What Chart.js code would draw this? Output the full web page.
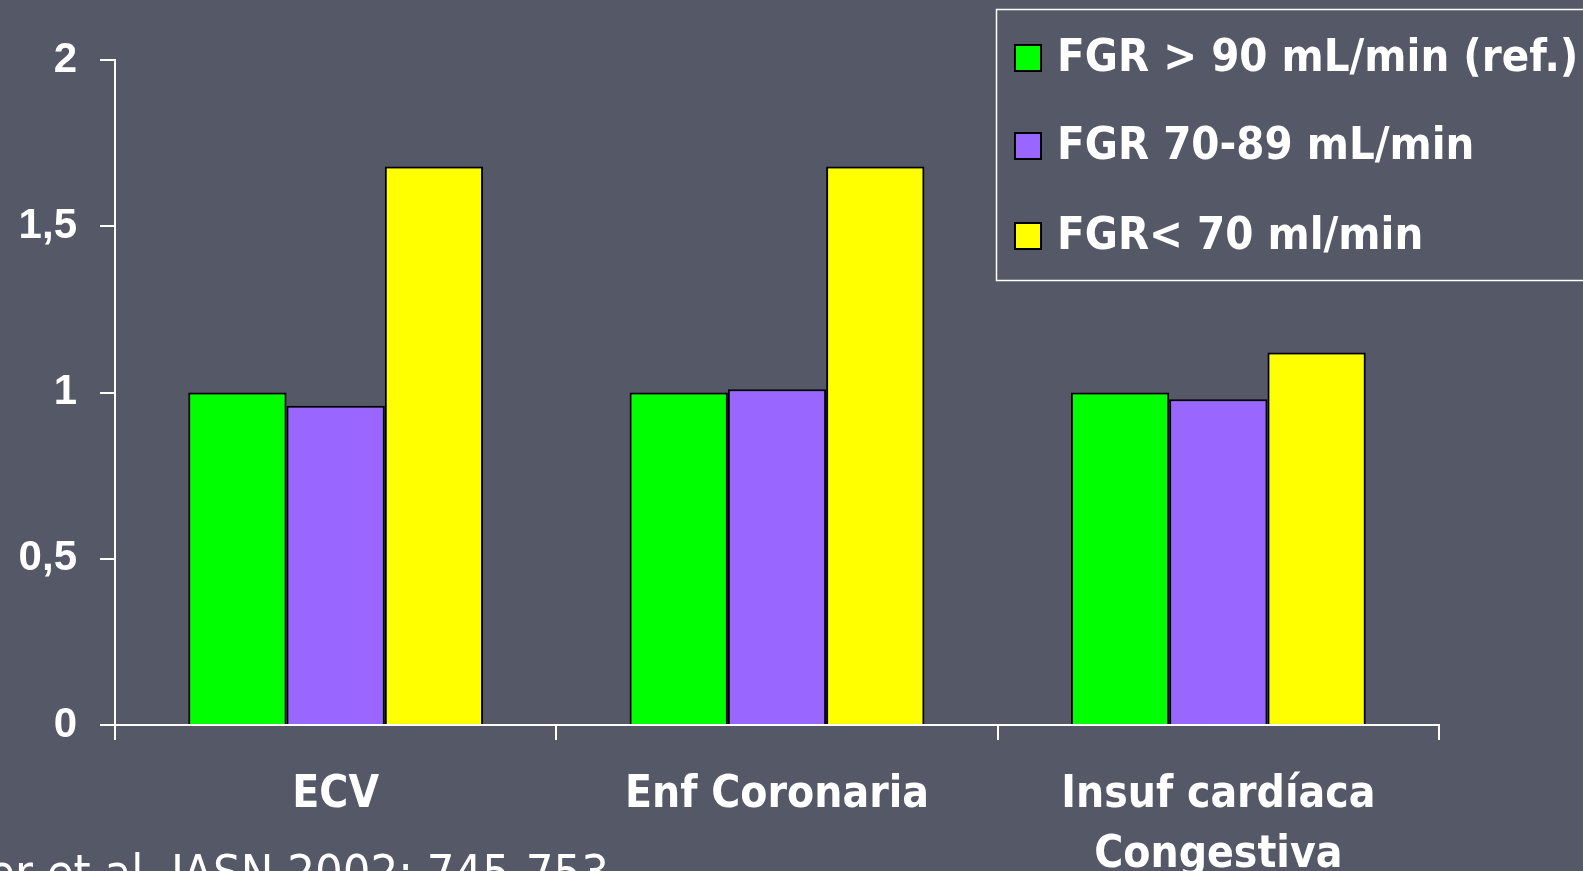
<!DOCTYPE html>
<html>
<head>
<meta charset="utf-8">
<script src="https://cdn.jsdelivr.net/npm/chart.js@4"></script>
<style>
  html, body { margin: 0; padding: 0; background: #555867; overflow: hidden; }
  #wrap { width: 1583px; height: 871px; position: relative; }
</style>
</head>
<body>
<div id="wrap"><canvas id="c" width="1583" height="871"></canvas></div>
<script>
const categories = ["ECV", "Enf Coronaria", ["Insuf cardíaca", "Congestiva"]];
const seriesNames = ["FGR > 90 mL/min (ref.)", "FGR 70-89 mL/min", "FGR< 70 ml/min"];
const seriesRef = [1, 1, 1];
const series7089 = [0.96, 1.01, 0.98];
const seriesLt70 = [1.68, 1.68, 1.12];
const seriesColors = ["#00FF00", "#9966FF", "#FFFF00"];
const yTickLabels = ["0", "0,5", "1", "1,5", "2"];
const citation = "Muntner et al. JASN 2002; 745-753";

const BG = "#555867";
const condensed = "'DejaVu Sans Condensed', 'DejaVu Sans', sans-serif";

const bgPlugin = {
  id: 'bg',
  beforeDraw(chart) {
    const ctx = chart.ctx;
    ctx.save();
    ctx.fillStyle = BG;
    ctx.fillRect(0, 0, chart.width, chart.height);
    ctx.restore();
  }
};

const overlayPlugin = {
  id: 'overlay',
  afterDraw(chart) {
    const ctx = chart.ctx;
    ctx.save();
    // legend box
    ctx.strokeStyle = "#FFFFFF";
    ctx.lineWidth = 1.5;
    ctx.strokeRect(996.5, 9.5, 700, 271);
    const rows = [58, 146, 236];
    chart.data.datasets.forEach((ds, i) => {
      const cy = rows[i];
      ctx.fillStyle = ds.backgroundColor;
      ctx.fillRect(1015, cy - 13, 26, 26);
      ctx.strokeStyle = "#000000";
      ctx.lineWidth = 2;
      ctx.strokeRect(1015, cy - 13, 26, 26);
      ctx.fillStyle = "#FFFFFF";
      ctx.font = "bold 45px " + condensed;
      ctx.textAlign = "left";
      ctx.textBaseline = "middle";
      ctx.fillText(ds.label, 1057, cy + 1);
    });
    // citation
    ctx.font = "48.5px " + condensed;
    ctx.fillStyle = "#FFFFFF";
    ctx.textAlign = "right";
    ctx.textBaseline = "alphabetic";
    ctx.fillText(citation, 609, 889);
    ctx.restore();
  }
};

new Chart(document.getElementById('c'), {
  type: 'bar',
  data: {
    labels: categories,
    datasets: [
      { label: seriesNames[0], data: seriesRef, backgroundColor: seriesColors[0] },
      { label: seriesNames[1], data: series7089, backgroundColor: seriesColors[1] },
      { label: seriesNames[2], data: seriesLt70, backgroundColor: seriesColors[2] }
    ].map(d => Object.assign(d, {
      borderColor: "#000000",
      borderWidth: 2,
      barPercentage: 1,
      categoryPercentage: 0.668
    }))
  },
  options: {
    responsive: false,
    animation: false,
    devicePixelRatio: 1,
    layout: { padding: { top: 60, right: 144, left: 0, bottom: 0 } },
    plugins: {
      legend: { display: false },
      tooltip: { enabled: false }
    },
    scales: {
      x: {
        grid: { offset: true, drawOnChartArea: false, drawTicks: true, tickLength: 15, color: "#FFFFFF", lineWidth: 2 },
        border: { color: "#FFFFFF", width: 2 },
        ticks: {
          color: "#FFFFFF",
          font: { family: condensed, weight: 'bold', size: 44, lineHeight: 1.36 },
          padding: 26,
          maxRotation: 0,
          autoSkip: false
        },
        afterFit(s) { s.height = 146; }
      },
      y: {
        min: 0, max: 2,
        grid: { drawOnChartArea: false, drawTicks: true, tickLength: 15, color: "#FFFFFF", lineWidth: 2 },
        border: { color: "#FFFFFF", width: 2 },
        ticks: {
          stepSize: 0.5,
          color: "#FFFFFF",
          padding: 23,
          font: { family: "'Liberation Sans', Arial, sans-serif", weight: 'bold', size: 42 },
          callback: (v, i) => yTickLabels[i]
        },
        afterFit(s) { s.width = 115; }
      }
    }
  },
  plugins: [bgPlugin, overlayPlugin]
});
</script>
</body>
</html>
